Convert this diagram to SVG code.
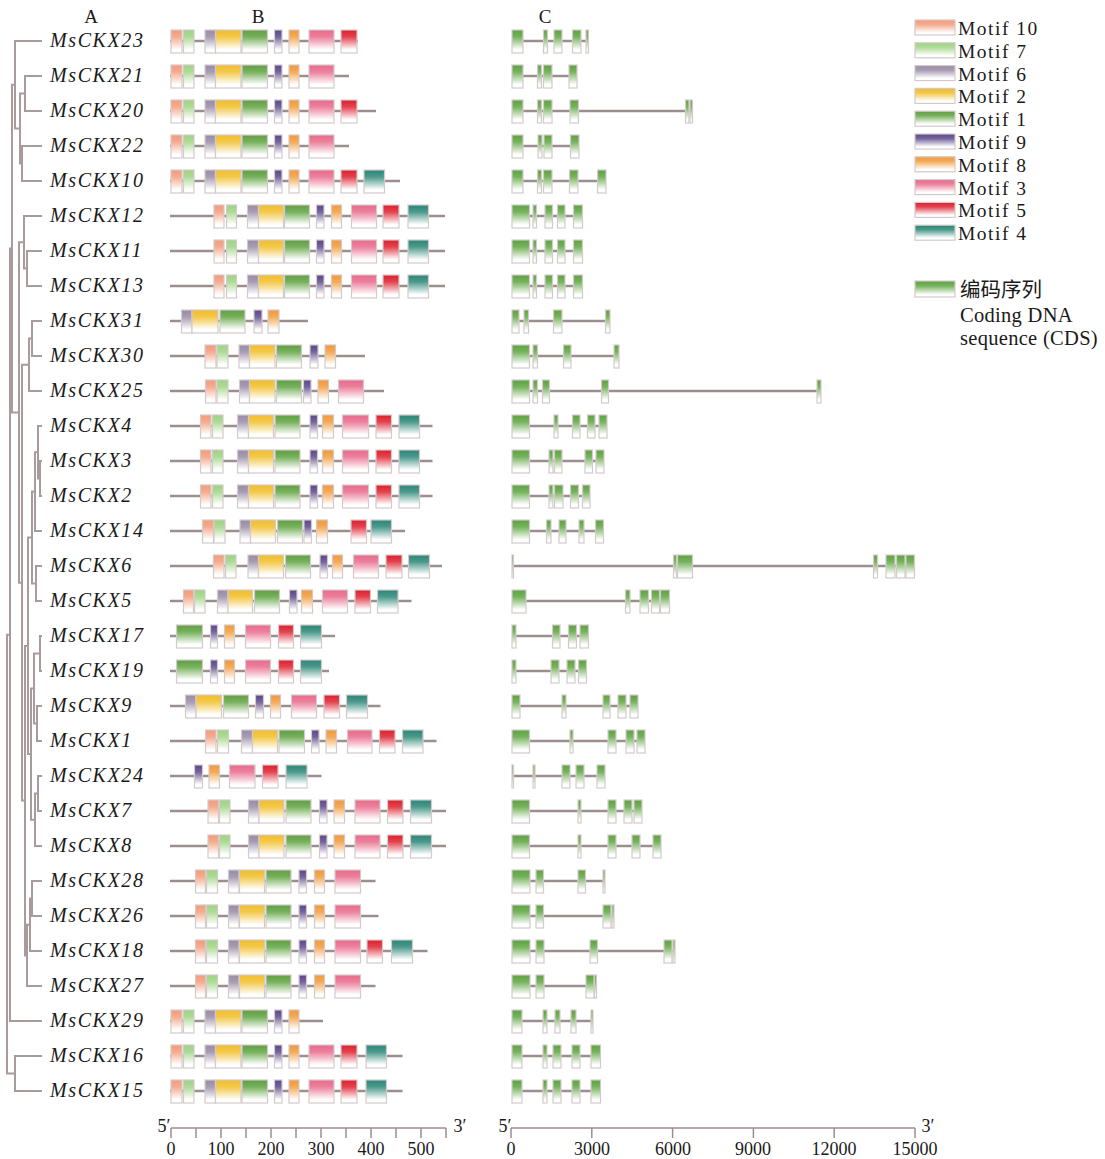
<svg xmlns="http://www.w3.org/2000/svg" width="1105" height="1159" viewBox="0 0 1105 1159">
<style>
text{font-family:"Liberation Serif","Times New Roman",serif;fill:#1a1a1a}
.lb{font-size:20px;font-style:italic;letter-spacing:1.6px}
.hd{font-size:19px;text-anchor:middle}
.lg{font-size:19.5px;letter-spacing:1.5px}
.cd{font-size:20.5px;letter-spacing:0.3px}
.cj{font-family:"Liberation Serif","Noto Sans CJK SC",serif;font-size:20.5px}
.ax{font-size:18px;text-anchor:middle}
.ln{stroke:#9c8e8e;stroke-width:2.5;fill:none}
.tr{stroke:#a99b9b;stroke-width:2;fill:none}
.tk{stroke:#9c8e8e;stroke-width:1.5;fill:none}
rect{stroke:#d4caca;stroke-width:1.2}
.g10{fill:url(#G10)}.g7{fill:url(#G7)}.g6{fill:url(#G6)}.g2{fill:url(#G2)}.g1{fill:url(#G1)}
.g9{fill:url(#G9)}.g8{fill:url(#G8)}.g3{fill:url(#G3)}.g5{fill:url(#G5)}.g4{fill:url(#G4)}.e{fill:url(#GE)}
</style>
<defs>
<linearGradient id="G10" x1="0" y1="0" x2="0" y2="1"><stop offset="0" stop-color="#f39b7a"/><stop offset="0.3" stop-color="#f5ab8e"/><stop offset="0.85" stop-color="#fff"/></linearGradient>
<linearGradient id="G7" x1="0" y1="0" x2="0" y2="1"><stop offset="0" stop-color="#9dd282"/><stop offset="0.3" stop-color="#addb95"/><stop offset="0.85" stop-color="#fff"/></linearGradient>
<linearGradient id="G6" x1="0" y1="0" x2="0" y2="1"><stop offset="0" stop-color="#988ca6"/><stop offset="0.3" stop-color="#a79cb2"/><stop offset="0.85" stop-color="#fff"/></linearGradient>
<linearGradient id="G2" x1="0" y1="0" x2="0" y2="1"><stop offset="0" stop-color="#f1bd2a"/><stop offset="0.3" stop-color="#f3c84a"/><stop offset="0.85" stop-color="#fff"/></linearGradient>
<linearGradient id="G1" x1="0" y1="0" x2="0" y2="1"><stop offset="0" stop-color="#5f9f43"/><stop offset="0.3" stop-color="#77b15c"/><stop offset="0.85" stop-color="#fff"/></linearGradient>
<linearGradient id="G9" x1="0" y1="0" x2="0" y2="1"><stop offset="0" stop-color="#5a4788"/><stop offset="0.3" stop-color="#74639c"/><stop offset="0.85" stop-color="#fff"/></linearGradient>
<linearGradient id="G8" x1="0" y1="0" x2="0" y2="1"><stop offset="0" stop-color="#f2983a"/><stop offset="0.3" stop-color="#f4aa57"/><stop offset="0.85" stop-color="#fff"/></linearGradient>
<linearGradient id="G3" x1="0" y1="0" x2="0" y2="1"><stop offset="0" stop-color="#e8698b"/><stop offset="0.3" stop-color="#ec819d"/><stop offset="0.85" stop-color="#fff"/></linearGradient>
<linearGradient id="G5" x1="0" y1="0" x2="0" y2="1"><stop offset="0" stop-color="#de1f2e"/><stop offset="0.3" stop-color="#e4434f"/><stop offset="0.85" stop-color="#fff"/></linearGradient>
<linearGradient id="G4" x1="0" y1="0" x2="0" y2="1"><stop offset="0" stop-color="#2a8676"/><stop offset="0.3" stop-color="#4c9a8c"/><stop offset="0.85" stop-color="#fff"/></linearGradient>
<linearGradient id="GE" x1="0" y1="0" x2="0" y2="1"><stop offset="0" stop-color="#5ca240"/><stop offset="0.3" stop-color="#76b35d"/><stop offset="0.85" stop-color="#fff"/></linearGradient>
</defs>

<text class="hd" x="91" y="23">A</text>
<text class="hd" x="258" y="23">B</text>
<text class="hd" x="545" y="23">C</text>

<g id="tree" transform="translate(0,1)">
<path class="tr" d="M42 75H25V110H42 M42 145H22V180H42 M25 92.5H20V162.5H22 M42 40H15V127.5H20 M42 250H27V285H42 M42 215H24V267.5H27 M42 320H32V355H42 M32 337.5H29V390H42 M42 460H40V495H42 M42 425H38V477.5H40 M38 451.25H35V530H42 M42 565H36V600H42 M35 490.6H32V582.5H36 M42 635H40V670H42 M42 705H37V740H42 M40 652.5H34V722.5H37 M42 775H38V810H42 M38 792.5H35V845H42 M34 687.5H31V818.75H35 M32 536.6H28V753.1H31 M42 880H32V915H42 M32 897.5H30V950H42 M30 923.75H27V985H42 M28 644.9H25V954.4H27 M29 363.75H22V799.6H25 M24 241.25H19V581.7H22 M15 83.75H12V411.5H19 M42 1055H15V1090H42 M12 247.6H10V1020H42 M10 633.8H7V1072.5H15"/>
</g>

<g id="r-MsCKX23" transform="translate(0,40)"><text class="lb" x="50" y="7">MsCKX23</text><path class="ln" d="M170 1H358"/>
<rect class="g10" x="171" y="-10" width="11" height="23"/><rect class="g7" x="183.5" y="-10" width="10.5" height="23"/><rect class="g6" x="205" y="-10" width="10.5" height="23"/><rect class="g2" x="215.5" y="-10" width="25.5" height="23"/><rect class="g1" x="242" y="-10" width="25.5" height="23"/><rect class="g9" x="274.5" y="-10" width="7.5" height="23"/><rect class="g8" x="289" y="-10" width="10" height="23"/><rect class="g3" x="309" y="-10" width="25" height="23"/><rect class="g5" x="341" y="-10" width="16" height="23"/>
<path class="ln" d="M512 1H588.5"/><rect class="e" x="512" y="-10" width="11" height="23"/><rect class="e" x="543.5" y="-10" width="4" height="23"/><rect class="e" x="554" y="-10" width="8" height="23"/><rect class="e" x="572.5" y="-10" width="8.5" height="23"/><rect class="e" x="586" y="-10" width="2.5" height="23"/></g>

<g id="r-MsCKX21" transform="translate(0,75)"><text class="lb" x="50" y="7">MsCKX21</text><path class="ln" d="M170 1H349"/>
<rect class="g10" x="171" y="-10" width="11" height="23"/><rect class="g7" x="183.5" y="-10" width="10.5" height="23"/><rect class="g6" x="205" y="-10" width="10.5" height="23"/><rect class="g2" x="215.5" y="-10" width="25.5" height="23"/><rect class="g1" x="242" y="-10" width="25.5" height="23"/><rect class="g9" x="274.5" y="-10" width="7.5" height="23"/><rect class="g8" x="289" y="-10" width="10" height="23"/><rect class="g3" x="309" y="-10" width="25" height="23"/>
<path class="ln" d="M512 1H577"/><rect class="e" x="512" y="-10" width="11" height="23"/><rect class="e" x="537.5" y="-10" width="4" height="23"/><rect class="e" x="543.5" y="-10" width="8.5" height="23"/><rect class="e" x="569" y="-10" width="8" height="23"/></g>

<g id="r-MsCKX20" transform="translate(0,110)"><text class="lb" x="50" y="7">MsCKX20</text><path class="ln" d="M170 1H376"/>
<rect class="g10" x="171" y="-10" width="11" height="23"/><rect class="g7" x="183.5" y="-10" width="10.5" height="23"/><rect class="g6" x="205" y="-10" width="10.5" height="23"/><rect class="g2" x="215.5" y="-10" width="25.5" height="23"/><rect class="g1" x="242" y="-10" width="25.5" height="23"/><rect class="g9" x="274.5" y="-10" width="7.5" height="23"/><rect class="g8" x="289" y="-10" width="10" height="23"/><rect class="g3" x="309" y="-10" width="25" height="23"/><rect class="g5" x="341" y="-10" width="16" height="23"/>
<path class="ln" d="M512 1H692.5"/><rect class="e" x="512" y="-10" width="11" height="23"/><rect class="e" x="537.5" y="-10" width="4" height="23"/><rect class="e" x="543.5" y="-10" width="8.5" height="23"/><rect class="e" x="570" y="-10" width="8.5" height="23"/><rect class="e" x="685.5" y="-10" width="3.5" height="23"/><rect class="e" x="690" y="-10" width="2.5" height="23"/></g>

<g id="r-MsCKX22" transform="translate(0,145)"><text class="lb" x="50" y="7">MsCKX22</text><path class="ln" d="M170 1H349"/>
<rect class="g10" x="171" y="-10" width="11" height="23"/><rect class="g7" x="183.5" y="-10" width="10.5" height="23"/><rect class="g6" x="205" y="-10" width="10.5" height="23"/><rect class="g2" x="215.5" y="-10" width="25.5" height="23"/><rect class="g1" x="242" y="-10" width="25.5" height="23"/><rect class="g9" x="274.5" y="-10" width="7.5" height="23"/><rect class="g8" x="289" y="-10" width="10" height="23"/><rect class="g3" x="309" y="-10" width="25" height="23"/>
<path class="ln" d="M512 1H579"/><rect class="e" x="512" y="-10" width="11" height="23"/><rect class="e" x="538" y="-10" width="4" height="23"/><rect class="e" x="544" y="-10" width="8" height="23"/><rect class="e" x="570.5" y="-10" width="8.5" height="23"/></g>

<g id="r-MsCKX10" transform="translate(0,180)"><text class="lb" x="50" y="7">MsCKX10</text><path class="ln" d="M170 1H400"/>
<rect class="g10" x="171" y="-10" width="11" height="23"/><rect class="g7" x="183.5" y="-10" width="10.5" height="23"/><rect class="g6" x="205" y="-10" width="10.5" height="23"/><rect class="g2" x="215.5" y="-10" width="25.5" height="23"/><rect class="g1" x="242" y="-10" width="25.5" height="23"/><rect class="g9" x="274.5" y="-10" width="7.5" height="23"/><rect class="g8" x="289" y="-10" width="10" height="23"/><rect class="g3" x="309" y="-10" width="25" height="23"/><rect class="g5" x="341" y="-10" width="16" height="23"/><rect class="g4" x="364" y="-10" width="20.5" height="23"/>
<path class="ln" d="M512 1H606"/><rect class="e" x="512" y="-10" width="11" height="23"/><rect class="e" x="537.5" y="-10" width="4" height="23"/><rect class="e" x="543.5" y="-10" width="8.5" height="23"/><rect class="e" x="569.5" y="-10" width="8.5" height="23"/><rect class="e" x="597.5" y="-10" width="8.5" height="23"/></g>

<g id="r-MsCKX12" transform="translate(0,215)"><text class="lb" x="50" y="7">MsCKX12</text><path class="ln" d="M170 1H445"/>
<rect class="g10" x="214" y="-10" width="10" height="23"/><rect class="g7" x="226.5" y="-10" width="10" height="23"/><rect class="g6" x="247.5" y="-10" width="11" height="23"/><rect class="g2" x="258.5" y="-10" width="25" height="23"/><rect class="g1" x="284.5" y="-10" width="25" height="23"/><rect class="g9" x="316.5" y="-10" width="7.5" height="23"/><rect class="g8" x="331.5" y="-10" width="10" height="23"/><rect class="g3" x="351.5" y="-10" width="25" height="23"/><rect class="g5" x="383" y="-10" width="16" height="23"/><rect class="g4" x="408" y="-10" width="20.5" height="23"/>
<path class="ln" d="M512 1H582.5"/><rect class="e" x="512" y="-10" width="17.5" height="23"/><rect class="e" x="533" y="-10" width="3.5" height="23"/><rect class="e" x="545" y="-10" width="7.5" height="23"/><rect class="e" x="557.5" y="-10" width="7.5" height="23"/><rect class="e" x="573.5" y="-10" width="9" height="23"/></g>

<g id="r-MsCKX11" transform="translate(0,250)"><text class="lb" x="50" y="7">MsCKX11</text><path class="ln" d="M170 1H445"/>
<rect class="g10" x="214" y="-10" width="10" height="23"/><rect class="g7" x="226.5" y="-10" width="10" height="23"/><rect class="g6" x="247.5" y="-10" width="11" height="23"/><rect class="g2" x="258.5" y="-10" width="25" height="23"/><rect class="g1" x="284.5" y="-10" width="25" height="23"/><rect class="g9" x="316.5" y="-10" width="7.5" height="23"/><rect class="g8" x="331.5" y="-10" width="10" height="23"/><rect class="g3" x="351.5" y="-10" width="25" height="23"/><rect class="g5" x="383" y="-10" width="16" height="23"/><rect class="g4" x="408" y="-10" width="20.5" height="23"/>
<path class="ln" d="M512 1H582.5"/><rect class="e" x="512" y="-10" width="17.5" height="23"/><rect class="e" x="533" y="-10" width="3.5" height="23"/><rect class="e" x="545" y="-10" width="7.5" height="23"/><rect class="e" x="557.5" y="-10" width="7.5" height="23"/><rect class="e" x="573.5" y="-10" width="9" height="23"/></g>

<g id="r-MsCKX13" transform="translate(0,285)"><text class="lb" x="50" y="7">MsCKX13</text><path class="ln" d="M170 1H445"/>
<rect class="g10" x="214" y="-10" width="10" height="23"/><rect class="g7" x="226.5" y="-10" width="10" height="23"/><rect class="g6" x="247.5" y="-10" width="11" height="23"/><rect class="g2" x="258.5" y="-10" width="25" height="23"/><rect class="g1" x="284.5" y="-10" width="25" height="23"/><rect class="g9" x="316.5" y="-10" width="7.5" height="23"/><rect class="g8" x="331.5" y="-10" width="10" height="23"/><rect class="g3" x="351.5" y="-10" width="25" height="23"/><rect class="g5" x="383" y="-10" width="16" height="23"/><rect class="g4" x="408" y="-10" width="20.5" height="23"/>
<path class="ln" d="M512 1H582.5"/><rect class="e" x="512" y="-10" width="17.5" height="23"/><rect class="e" x="533" y="-10" width="3.5" height="23"/><rect class="e" x="545" y="-10" width="7.5" height="23"/><rect class="e" x="557.5" y="-10" width="7.5" height="23"/><rect class="e" x="573.5" y="-10" width="9" height="23"/></g>

<g id="r-MsCKX31" transform="translate(0,320)"><text class="lb" x="50" y="7">MsCKX31</text><path class="ln" d="M170 1H308"/>
<rect class="g6" x="181.5" y="-10" width="10.5" height="23"/><rect class="g2" x="192" y="-10" width="26" height="23"/><rect class="g1" x="220" y="-10" width="25" height="23"/><rect class="g9" x="254" y="-10" width="8" height="23"/><rect class="g8" x="268" y="-10" width="11" height="23"/>
<path class="ln" d="M512 1H610"/><rect class="e" x="512" y="-10" width="7" height="23"/><rect class="e" x="524" y="-10" width="4.5" height="23"/><rect class="e" x="553.5" y="-10" width="8.5" height="23"/><rect class="e" x="605.5" y="-10" width="4.5" height="23"/></g>

<g id="r-MsCKX30" transform="translate(0,355)"><text class="lb" x="50" y="7">MsCKX30</text><path class="ln" d="M170 1H365"/>
<rect class="g10" x="205" y="-10" width="11" height="23"/><rect class="g7" x="217" y="-10" width="11" height="23"/><rect class="g6" x="239" y="-10" width="10.5" height="23"/><rect class="g2" x="249.5" y="-10" width="25.5" height="23"/><rect class="g1" x="276.5" y="-10" width="25" height="23"/><rect class="g9" x="310" y="-10" width="8" height="23"/><rect class="g8" x="325" y="-10" width="10.5" height="23"/>
<path class="ln" d="M512 1H619"/><rect class="e" x="512" y="-10" width="17.5" height="23"/><rect class="e" x="533" y="-10" width="4.5" height="23"/><rect class="e" x="563.5" y="-10" width="7.5" height="23"/><rect class="e" x="614" y="-10" width="5" height="23"/></g>

<g id="r-MsCKX25" transform="translate(0,390)"><text class="lb" x="50" y="7">MsCKX25</text><path class="ln" d="M170 1H384"/>
<rect class="g10" x="205.5" y="-10" width="10.5" height="23"/><rect class="g7" x="217" y="-10" width="11" height="23"/><rect class="g6" x="239.5" y="-10" width="10" height="23"/><rect class="g2" x="249.5" y="-10" width="25.5" height="23"/><rect class="g1" x="276.5" y="-10" width="25" height="23"/><rect class="g9" x="303.5" y="-10" width="7.5" height="23"/><rect class="g8" x="318" y="-10" width="10.5" height="23"/><rect class="g3" x="338.5" y="-10" width="25" height="23"/>
<path class="ln" d="M512 1H821"/><rect class="e" x="512" y="-10" width="17.5" height="23"/><rect class="e" x="533" y="-10" width="4.5" height="23"/><rect class="e" x="542.5" y="-10" width="7" height="23"/><rect class="e" x="601.5" y="-10" width="7" height="23"/><rect class="e" x="817" y="-10" width="4" height="23"/></g>

<g id="r-MsCKX4" transform="translate(0,425)"><text class="lb" x="50" y="7">MsCKX4</text><path class="ln" d="M170 1H432.5"/>
<rect class="g10" x="200.5" y="-10" width="10.5" height="23"/><rect class="g7" x="212.5" y="-10" width="10.5" height="23"/><rect class="g6" x="237.5" y="-10" width="11" height="23"/><rect class="g2" x="248.5" y="-10" width="25" height="23"/><rect class="g1" x="275" y="-10" width="25" height="23"/><rect class="g9" x="310" y="-10" width="7.5" height="23"/><rect class="g8" x="322.5" y="-10" width="11" height="23"/><rect class="g3" x="342.5" y="-10" width="26" height="23"/><rect class="g5" x="376" y="-10" width="15.5" height="23"/><rect class="g4" x="399" y="-10" width="20.5" height="23"/>
<path class="ln" d="M512 1H607"/><rect class="e" x="512" y="-10" width="17.5" height="23"/><rect class="e" x="554" y="-10" width="4" height="23"/><rect class="e" x="572.5" y="-10" width="7.5" height="23"/><rect class="e" x="587.5" y="-10" width="7.5" height="23"/><rect class="e" x="599" y="-10" width="8" height="23"/></g>

<g id="r-MsCKX3" transform="translate(0,460)"><text class="lb" x="50" y="7">MsCKX3</text><path class="ln" d="M170 1H432.5"/>
<rect class="g10" x="200.5" y="-10" width="10.5" height="23"/><rect class="g7" x="212.5" y="-10" width="10.5" height="23"/><rect class="g6" x="237.5" y="-10" width="11" height="23"/><rect class="g2" x="248.5" y="-10" width="25" height="23"/><rect class="g1" x="275" y="-10" width="25" height="23"/><rect class="g9" x="310" y="-10" width="7.5" height="23"/><rect class="g8" x="322.5" y="-10" width="11" height="23"/><rect class="g3" x="342.5" y="-10" width="26" height="23"/><rect class="g5" x="376" y="-10" width="15.5" height="23"/><rect class="g4" x="399" y="-10" width="20.5" height="23"/>
<path class="ln" d="M512 1H604"/><rect class="e" x="512" y="-10" width="17.5" height="23"/><rect class="e" x="549" y="-10" width="4" height="23"/><rect class="e" x="554.5" y="-10" width="7.5" height="23"/><rect class="e" x="585" y="-10" width="7.5" height="23"/><rect class="e" x="596" y="-10" width="8" height="23"/></g>

<g id="r-MsCKX2" transform="translate(0,495)"><text class="lb" x="50" y="7">MsCKX2</text><path class="ln" d="M170 1H432.5"/>
<rect class="g10" x="200.5" y="-10" width="10.5" height="23"/><rect class="g7" x="212.5" y="-10" width="10.5" height="23"/><rect class="g6" x="237.5" y="-10" width="11" height="23"/><rect class="g2" x="248.5" y="-10" width="25" height="23"/><rect class="g1" x="275" y="-10" width="25" height="23"/><rect class="g9" x="310" y="-10" width="7.5" height="23"/><rect class="g8" x="322.5" y="-10" width="11" height="23"/><rect class="g3" x="342.5" y="-10" width="26" height="23"/><rect class="g5" x="376" y="-10" width="15.5" height="23"/><rect class="g4" x="399" y="-10" width="20.5" height="23"/>
<path class="ln" d="M512 1H590"/><rect class="e" x="512" y="-10" width="17.5" height="23"/><rect class="e" x="549" y="-10" width="4" height="23"/><rect class="e" x="554.5" y="-10" width="8.5" height="23"/><rect class="e" x="570.5" y="-10" width="8" height="23"/><rect class="e" x="582.5" y="-10" width="7.5" height="23"/></g>

<g id="r-MsCKX14" transform="translate(0,530)"><text class="lb" x="50" y="7">MsCKX14</text><path class="ln" d="M170 1H405"/>
<rect class="g10" x="202.5" y="-10" width="11" height="23"/><rect class="g7" x="214" y="-10" width="11" height="23"/><rect class="g6" x="240" y="-10" width="10.5" height="23"/><rect class="g2" x="250.5" y="-10" width="25" height="23"/><rect class="g1" x="277.5" y="-10" width="25" height="23"/><rect class="g9" x="304" y="-10" width="7.5" height="23"/><rect class="g8" x="316.5" y="-10" width="11" height="23"/><rect class="g5" x="351" y="-10" width="15.5" height="23"/><rect class="g4" x="371" y="-10" width="20.5" height="23"/>
<path class="ln" d="M512 1H603.5"/><rect class="e" x="512" y="-10" width="17.5" height="23"/><rect class="e" x="546.5" y="-10" width="4.5" height="23"/><rect class="e" x="559" y="-10" width="7" height="23"/><rect class="e" x="579" y="-10" width="5" height="23"/><rect class="e" x="595.5" y="-10" width="8" height="23"/></g>

<g id="r-MsCKX6" transform="translate(0,565)"><text class="lb" x="50" y="7">MsCKX6</text><path class="ln" d="M170 1H442"/>
<rect class="g10" x="213.5" y="-10" width="10.5" height="23"/><rect class="g7" x="225.5" y="-10" width="10.5" height="23"/><rect class="g6" x="248" y="-10" width="10.5" height="23"/><rect class="g2" x="258.5" y="-10" width="25" height="23"/><rect class="g1" x="285.5" y="-10" width="25" height="23"/><rect class="g9" x="320" y="-10" width="7.5" height="23"/><rect class="g8" x="332.5" y="-10" width="10" height="23"/><rect class="g3" x="353.5" y="-10" width="25" height="23"/><rect class="g5" x="386" y="-10" width="16" height="23"/><rect class="g4" x="408.5" y="-10" width="21" height="23"/>
<path class="ln" d="M512 1H914.5"/><rect class="e" x="512" y="-10" width="1.5" height="23"/><rect class="e" x="673.5" y="-10" width="3" height="23"/><rect class="e" x="677.5" y="-10" width="15" height="23"/><rect class="e" x="873.5" y="-10" width="4" height="23"/><rect class="e" x="886" y="-10" width="9" height="23"/><rect class="e" x="896.5" y="-10" width="8.5" height="23"/><rect class="e" x="906" y="-10" width="8.5" height="23"/></g>

<g id="r-MsCKX5" transform="translate(0,600)"><text class="lb" x="50" y="7">MsCKX5</text><path class="ln" d="M170 1H411.5"/>
<rect class="g10" x="183.5" y="-10" width="10" height="23"/><rect class="g7" x="194.5" y="-10" width="10.5" height="23"/><rect class="g6" x="217.5" y="-10" width="10.5" height="23"/><rect class="g2" x="228" y="-10" width="24.5" height="23"/><rect class="g1" x="254.5" y="-10" width="25" height="23"/><rect class="g9" x="289.5" y="-10" width="7.5" height="23"/><rect class="g8" x="301.5" y="-10" width="11" height="23"/><rect class="g3" x="322.5" y="-10" width="25" height="23"/><rect class="g5" x="355" y="-10" width="15.5" height="23"/><rect class="g4" x="377.5" y="-10" width="20.5" height="23"/>
<path class="ln" d="M512 1H669.5"/><rect class="e" x="512" y="-10" width="14" height="23"/><rect class="e" x="625.5" y="-10" width="4.5" height="23"/><rect class="e" x="640" y="-10" width="8.5" height="23"/><rect class="e" x="651.5" y="-10" width="8" height="23"/><rect class="e" x="660.5" y="-10" width="9" height="23"/></g>

<g id="r-MsCKX17" transform="translate(0,635)"><text class="lb" x="50" y="7">MsCKX17</text><path class="ln" d="M170 1H335"/>
<rect class="g1" x="176.5" y="-10" width="26" height="23"/><rect class="g9" x="210.5" y="-10" width="7" height="23"/><rect class="g8" x="224.5" y="-10" width="10" height="23"/><rect class="g3" x="245.5" y="-10" width="25" height="23"/><rect class="g5" x="278.5" y="-10" width="15" height="23"/><rect class="g4" x="300.5" y="-10" width="21" height="23"/>
<path class="ln" d="M512 1H588.5"/><rect class="e" x="512" y="-10" width="4" height="23"/><rect class="e" x="552.5" y="-10" width="7.5" height="23"/><rect class="e" x="568.5" y="-10" width="8" height="23"/><rect class="e" x="580" y="-10" width="8.5" height="23"/></g>

<g id="r-MsCKX19" transform="translate(0,670)"><text class="lb" x="50" y="7">MsCKX19</text><path class="ln" d="M170 1H329"/>
<rect class="g1" x="176.5" y="-10" width="26" height="23"/><rect class="g9" x="210.5" y="-10" width="7" height="23"/><rect class="g8" x="224.5" y="-10" width="10" height="23"/><rect class="g3" x="245.5" y="-10" width="25" height="23"/><rect class="g5" x="278.5" y="-10" width="15" height="23"/><rect class="g4" x="300.5" y="-10" width="21" height="23"/>
<path class="ln" d="M512 1H586.5"/><rect class="e" x="512" y="-10" width="4" height="23"/><rect class="e" x="551" y="-10" width="8" height="23"/><rect class="e" x="567" y="-10" width="8" height="23"/><rect class="e" x="578.5" y="-10" width="8" height="23"/></g>

<g id="r-MsCKX9" transform="translate(0,705)"><text class="lb" x="50" y="7">MsCKX9</text><path class="ln" d="M170 1H380.5"/>
<rect class="g6" x="185.5" y="-10" width="10.5" height="23"/><rect class="g2" x="196" y="-10" width="25.5" height="23"/><rect class="g1" x="223.5" y="-10" width="25" height="23"/><rect class="g9" x="255.5" y="-10" width="8" height="23"/><rect class="g8" x="270.5" y="-10" width="10" height="23"/><rect class="g3" x="291.5" y="-10" width="25" height="23"/><rect class="g5" x="324" y="-10" width="15.5" height="23"/><rect class="g4" x="346.5" y="-10" width="21" height="23"/>
<path class="ln" d="M512 1H638"/><rect class="e" x="512" y="-10" width="8" height="23"/><rect class="e" x="562" y="-10" width="4" height="23"/><rect class="e" x="603" y="-10" width="7" height="23"/><rect class="e" x="618" y="-10" width="8" height="23"/><rect class="e" x="630" y="-10" width="8" height="23"/></g>

<g id="r-MsCKX1" transform="translate(0,740)"><text class="lb" x="50" y="7">MsCKX1</text><path class="ln" d="M170 1H436.5"/>
<rect class="g10" x="205.5" y="-10" width="10.5" height="23"/><rect class="g7" x="217.5" y="-10" width="11" height="23"/><rect class="g6" x="241.5" y="-10" width="11" height="23"/><rect class="g2" x="252.5" y="-10" width="25" height="23"/><rect class="g1" x="279" y="-10" width="25.5" height="23"/><rect class="g9" x="311.5" y="-10" width="7.5" height="23"/><rect class="g8" x="326" y="-10" width="10.5" height="23"/><rect class="g3" x="347.5" y="-10" width="24.5" height="23"/><rect class="g5" x="379.5" y="-10" width="15.5" height="23"/><rect class="g4" x="402.5" y="-10" width="20.5" height="23"/>
<path class="ln" d="M512 1H645"/><rect class="e" x="512" y="-10" width="17.5" height="23"/><rect class="e" x="570" y="-10" width="3" height="23"/><rect class="e" x="608" y="-10" width="8" height="23"/><rect class="e" x="626" y="-10" width="8" height="23"/><rect class="e" x="637" y="-10" width="8" height="23"/></g>

<g id="r-MsCKX24" transform="translate(0,775)"><text class="lb" x="50" y="7">MsCKX24</text><path class="ln" d="M170 1H321.5"/>
<rect class="g9" x="194.5" y="-10" width="8" height="23"/><rect class="g8" x="209" y="-10" width="10.5" height="23"/><rect class="g3" x="229.5" y="-10" width="25.5" height="23"/><rect class="g5" x="262.5" y="-10" width="15.5" height="23"/><rect class="g4" x="286" y="-10" width="21" height="23"/>
<path class="ln" d="M512 1H605"/><rect class="e" x="512" y="-10" width="1.5" height="23"/><rect class="e" x="533" y="-10" width="2" height="23"/><rect class="e" x="562" y="-10" width="8" height="23"/><rect class="e" x="576" y="-10" width="8" height="23"/><rect class="e" x="597" y="-10" width="8" height="23"/></g>

<g id="r-MsCKX7" transform="translate(0,810)"><text class="lb" x="50" y="7">MsCKX7</text><path class="ln" d="M170 1H446"/>
<rect class="g10" x="208" y="-10" width="10.5" height="23"/><rect class="g7" x="219.5" y="-10" width="10.5" height="23"/><rect class="g6" x="248.5" y="-10" width="10.5" height="23"/><rect class="g2" x="259" y="-10" width="25" height="23"/><rect class="g1" x="286" y="-10" width="25" height="23"/><rect class="g9" x="319.5" y="-10" width="7.5" height="23"/><rect class="g8" x="334" y="-10" width="10.5" height="23"/><rect class="g3" x="355" y="-10" width="25" height="23"/><rect class="g5" x="387.5" y="-10" width="15.5" height="23"/><rect class="g4" x="410.5" y="-10" width="21" height="23"/>
<path class="ln" d="M512 1H642"/><rect class="e" x="512" y="-10" width="17.5" height="23"/><rect class="e" x="578" y="-10" width="3" height="23"/><rect class="e" x="608" y="-10" width="8" height="23"/><rect class="e" x="624" y="-10" width="8" height="23"/><rect class="e" x="634" y="-10" width="8" height="23"/></g>

<g id="r-MsCKX8" transform="translate(0,845)"><text class="lb" x="50" y="7">MsCKX8</text><path class="ln" d="M170 1H446"/>
<rect class="g10" x="208" y="-10" width="10.5" height="23"/><rect class="g7" x="219.5" y="-10" width="10.5" height="23"/><rect class="g6" x="248.5" y="-10" width="10.5" height="23"/><rect class="g2" x="259" y="-10" width="25" height="23"/><rect class="g1" x="286" y="-10" width="25" height="23"/><rect class="g9" x="319.5" y="-10" width="7.5" height="23"/><rect class="g8" x="334" y="-10" width="10.5" height="23"/><rect class="g3" x="355" y="-10" width="25" height="23"/><rect class="g5" x="387.5" y="-10" width="15.5" height="23"/><rect class="g4" x="410.5" y="-10" width="21" height="23"/>
<path class="ln" d="M512 1H661"/><rect class="e" x="512" y="-10" width="17.5" height="23"/><rect class="e" x="578" y="-10" width="3" height="23"/><rect class="e" x="608" y="-10" width="8" height="23"/><rect class="e" x="632" y="-10" width="8" height="23"/><rect class="e" x="653" y="-10" width="8" height="23"/></g>

<g id="r-MsCKX28" transform="translate(0,880)"><text class="lb" x="50" y="7">MsCKX28</text><path class="ln" d="M170 1H375.5"/>
<rect class="g10" x="195.5" y="-10" width="10" height="23"/><rect class="g7" x="206.5" y="-10" width="11" height="23"/><rect class="g6" x="228.5" y="-10" width="10.5" height="23"/><rect class="g2" x="239.5" y="-10" width="25" height="23"/><rect class="g1" x="266" y="-10" width="25" height="23"/><rect class="g9" x="299" y="-10" width="7.5" height="23"/><rect class="g8" x="314.5" y="-10" width="10" height="23"/><rect class="g3" x="335" y="-10" width="25.5" height="23"/>
<path class="ln" d="M512 1H605"/><rect class="e" x="512" y="-10" width="18" height="23"/><rect class="e" x="536" y="-10" width="7.5" height="23"/><rect class="e" x="578" y="-10" width="7.5" height="23"/><rect class="e" x="603" y="-10" width="2" height="23"/></g>

<g id="r-MsCKX26" transform="translate(0,915)"><text class="lb" x="50" y="7">MsCKX26</text><path class="ln" d="M170 1H378.5"/>
<rect class="g10" x="195.5" y="-10" width="10" height="23"/><rect class="g7" x="206.5" y="-10" width="11" height="23"/><rect class="g6" x="228.5" y="-10" width="10.5" height="23"/><rect class="g2" x="239.5" y="-10" width="25" height="23"/><rect class="g1" x="266" y="-10" width="25" height="23"/><rect class="g9" x="299" y="-10" width="7.5" height="23"/><rect class="g8" x="314.5" y="-10" width="10" height="23"/><rect class="g3" x="335" y="-10" width="25.5" height="23"/>
<path class="ln" d="M512 1H614"/><rect class="e" x="512" y="-10" width="18" height="23"/><rect class="e" x="536" y="-10" width="7.5" height="23"/><rect class="e" x="603" y="-10" width="8" height="23"/><rect class="e" x="612" y="-10" width="2" height="23"/></g>

<g id="r-MsCKX18" transform="translate(0,950)"><text class="lb" x="50" y="7">MsCKX18</text><path class="ln" d="M170 1H427.5"/>
<rect class="g10" x="195.5" y="-10" width="10" height="23"/><rect class="g7" x="206.5" y="-10" width="11" height="23"/><rect class="g6" x="228.5" y="-10" width="10.5" height="23"/><rect class="g2" x="239.5" y="-10" width="25" height="23"/><rect class="g1" x="266" y="-10" width="25" height="23"/><rect class="g9" x="299" y="-10" width="7.5" height="23"/><rect class="g8" x="314.5" y="-10" width="10" height="23"/><rect class="g3" x="335" y="-10" width="25.5" height="23"/><rect class="g5" x="367" y="-10" width="15.5" height="23"/><rect class="g4" x="391.5" y="-10" width="21" height="23"/>
<path class="ln" d="M512 1H675"/><rect class="e" x="512" y="-10" width="18" height="23"/><rect class="e" x="536" y="-10" width="8" height="23"/><rect class="e" x="590" y="-10" width="7.5" height="23"/><rect class="e" x="664" y="-10" width="8" height="23"/><rect class="e" x="673" y="-10" width="2" height="23"/></g>

<g id="r-MsCKX27" transform="translate(0,985)"><text class="lb" x="50" y="7">MsCKX27</text><path class="ln" d="M170 1H375.5"/>
<rect class="g10" x="195.5" y="-10" width="10" height="23"/><rect class="g7" x="206.5" y="-10" width="11" height="23"/><rect class="g6" x="228.5" y="-10" width="10.5" height="23"/><rect class="g2" x="239.5" y="-10" width="25" height="23"/><rect class="g1" x="266" y="-10" width="25" height="23"/><rect class="g9" x="299" y="-10" width="7.5" height="23"/><rect class="g8" x="314.5" y="-10" width="10" height="23"/><rect class="g3" x="335" y="-10" width="25.5" height="23"/>
<path class="ln" d="M512 1H596.5"/><rect class="e" x="512" y="-10" width="18" height="23"/><rect class="e" x="536" y="-10" width="8" height="23"/><rect class="e" x="586" y="-10" width="8" height="23"/><rect class="e" x="594.5" y="-10" width="2" height="23"/></g>

<g id="r-MsCKX29" transform="translate(0,1020)"><text class="lb" x="50" y="7">MsCKX29</text><path class="ln" d="M170 1H323"/>
<rect class="g10" x="171" y="-10" width="11" height="23"/><rect class="g7" x="183.5" y="-10" width="10.5" height="23"/><rect class="g6" x="205" y="-10" width="10.5" height="23"/><rect class="g2" x="215.5" y="-10" width="25.5" height="23"/><rect class="g1" x="242" y="-10" width="25.5" height="23"/><rect class="g9" x="274.5" y="-10" width="7.5" height="23"/><rect class="g8" x="289" y="-10" width="10" height="23"/>
<path class="ln" d="M512 1H593"/><rect class="e" x="512" y="-10" width="10" height="23"/><rect class="e" x="543" y="-10" width="4" height="23"/><rect class="e" x="555" y="-10" width="5" height="23"/><rect class="e" x="571" y="-10" width="5" height="23"/><rect class="e" x="591" y="-10" width="2" height="23"/></g>

<g id="r-MsCKX16" transform="translate(0,1055)"><text class="lb" x="50" y="7">MsCKX16</text><path class="ln" d="M170 1H402.5"/>
<rect class="g10" x="171" y="-10" width="11" height="23"/><rect class="g7" x="183.5" y="-10" width="10.5" height="23"/><rect class="g6" x="205" y="-10" width="10.5" height="23"/><rect class="g2" x="215.5" y="-10" width="25.5" height="23"/><rect class="g1" x="242" y="-10" width="25.5" height="23"/><rect class="g9" x="274.5" y="-10" width="7.5" height="23"/><rect class="g8" x="289" y="-10" width="10" height="23"/><rect class="g3" x="309" y="-10" width="25" height="23"/><rect class="g5" x="341" y="-10" width="16" height="23"/><rect class="g4" x="366" y="-10" width="20.5" height="23"/>
<path class="ln" d="M512 1H600.5"/><rect class="e" x="512" y="-10" width="10" height="23"/><rect class="e" x="543" y="-10" width="4" height="23"/><rect class="e" x="553" y="-10" width="8" height="23"/><rect class="e" x="572" y="-10" width="8" height="23"/><rect class="e" x="591" y="-10" width="9.5" height="23"/></g>

<g id="r-MsCKX15" transform="translate(0,1090)"><text class="lb" x="50" y="7">MsCKX15</text><path class="ln" d="M170 1H402.5"/>
<rect class="g10" x="171" y="-10" width="11" height="23"/><rect class="g7" x="183.5" y="-10" width="10.5" height="23"/><rect class="g6" x="205" y="-10" width="10.5" height="23"/><rect class="g2" x="215.5" y="-10" width="25.5" height="23"/><rect class="g1" x="242" y="-10" width="25.5" height="23"/><rect class="g9" x="274.5" y="-10" width="7.5" height="23"/><rect class="g8" x="289" y="-10" width="10" height="23"/><rect class="g3" x="309" y="-10" width="25" height="23"/><rect class="g5" x="341" y="-10" width="16" height="23"/><rect class="g4" x="366" y="-10" width="20.5" height="23"/>
<path class="ln" d="M512 1H600.5"/><rect class="e" x="512" y="-10" width="10" height="23"/><rect class="e" x="543" y="-10" width="4" height="23"/><rect class="e" x="553" y="-10" width="8" height="23"/><rect class="e" x="572" y="-10" width="8" height="23"/><rect class="e" x="591" y="-10" width="9.5" height="23"/></g>

<g id="legend">
<rect class="g10" x="915" y="20" width="40" height="15"/><text class="lg" x="958" y="35">Motif 10</text>
<rect class="g7" x="915" y="42.8" width="40" height="15"/><text class="lg" x="958" y="57.8">Motif 7</text>
<rect class="g6" x="915" y="65.6" width="40" height="15"/><text class="lg" x="958" y="80.6">Motif 6</text>
<rect class="g2" x="915" y="88.4" width="40" height="15"/><text class="lg" x="958" y="103.4">Motif 2</text>
<rect class="g1" x="915" y="111.2" width="40" height="15"/><text class="lg" x="958" y="126.2">Motif 1</text>
<rect class="g9" x="915" y="134" width="40" height="15"/><text class="lg" x="958" y="149">Motif 9</text>
<rect class="g8" x="915" y="156.8" width="40" height="15"/><text class="lg" x="958" y="171.8">Motif 8</text>
<rect class="g3" x="915" y="179.6" width="40" height="15"/><text class="lg" x="958" y="194.6">Motif 3</text>
<rect class="g5" x="915" y="202.4" width="40" height="15"/><text class="lg" x="958" y="217.4">Motif 5</text>
<rect class="g4" x="915" y="225.2" width="40" height="15"/><text class="lg" x="958" y="240.2">Motif 4</text>
<rect class="e" x="915" y="281" width="40" height="16"/>
<text class="cj" x="960" y="297">编码序列</text>
<text class="cd" x="960" y="322">Coding DNA</text>
<text class="cd" x="960" y="345">sequence (CDS)</text>
</g>

<g id="axis-motif">
<path class="tk" d="M171 1128H446 M171 1128V1138 M196 1128V1138 M221 1128V1138 M246 1128V1138 M271 1128V1138 M296 1128V1138 M321 1128V1138 M346 1128V1138 M371 1128V1138 M396 1128V1138 M421 1128V1138 M446 1128V1138"/>
<text class="ax" x="164" y="1132">5′</text><text class="ax" x="460" y="1132">3′</text>
<text class="ax" x="171" y="1155">0</text><text class="ax" x="221" y="1155">100</text><text class="ax" x="271" y="1155">200</text><text class="ax" x="321" y="1155">300</text><text class="ax" x="371" y="1155">400</text><text class="ax" x="421" y="1155">500</text>
</g>
<g id="axis-gene">
<path class="tk" d="M511 1128H915 M511 1128V1138 M591.8 1128V1138 M672.6 1128V1138 M753.4 1128V1138 M834.2 1128V1138 M915 1128V1138"/>
<text class="ax" x="505" y="1132">5′</text><text class="ax" x="928" y="1132">3′</text>
<text class="ax" x="511" y="1155">0</text><text class="ax" x="592" y="1155">3000</text><text class="ax" x="673" y="1155">6000</text><text class="ax" x="753" y="1155">9000</text><text class="ax" x="834" y="1155">12000</text><text class="ax" x="915" y="1155">15000</text>
</g>
</svg>
